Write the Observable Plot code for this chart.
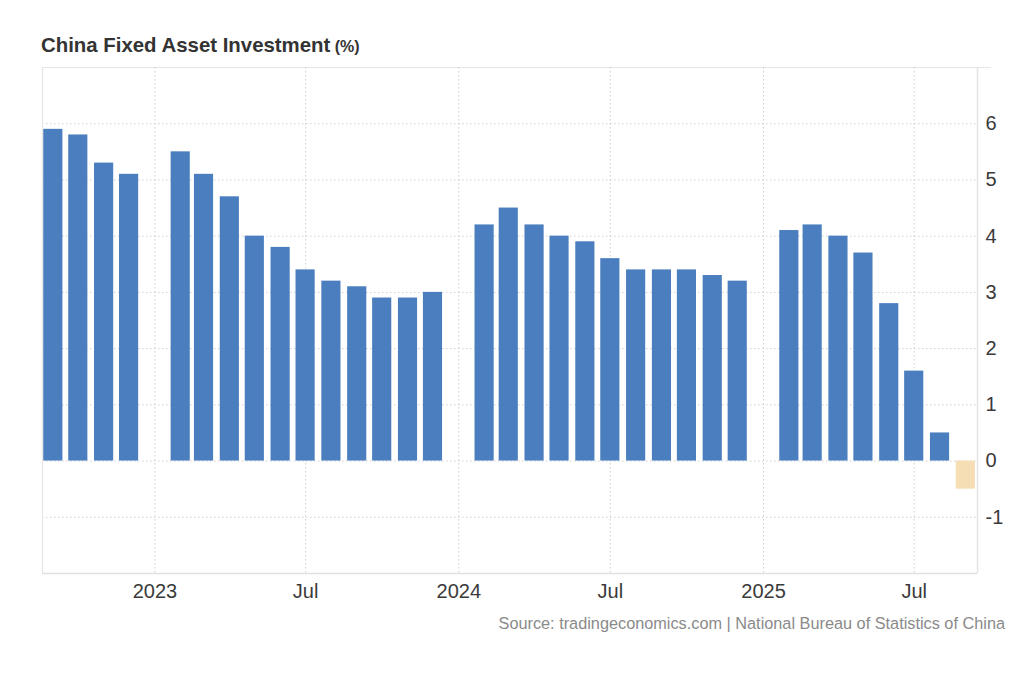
<!DOCTYPE html>
<html>
<head>
<meta charset="utf-8">
<script src="https://cdn.jsdelivr.net/npm/d3@7"></script>
<script src="https://cdn.jsdelivr.net/npm/@observablehq/plot@0.6"></script>
<style>
  html, body { margin: 0; padding: 0; background: #fff; }
  body { width: 1024px; height: 700px; position: relative; overflow: hidden; font-family: "Liberation Sans", Arial, sans-serif; }
  #title { position: absolute; left: 41px; top: 34px; font-size: 20.4px; font-weight: bold; color: #333; white-space: nowrap; }
  #title span { font-size: 16px; }
  #source { position: absolute; right: 19px; top: 614px; font-size: 16.3px; color: #8a8a8a; white-space: nowrap; }
  #chart { position: absolute; left: 0; top: 0; }
</style>
</head>
<body>
<div id="chart"></div>
<div id="title">China Fixed Asset Investment<span> (%)</span></div>
<div id="source">Source: tradingeconomics.com | National Bureau of Statistics of China</div>
<script>
const months = [
  "2022-09","2022-10","2022-11","2022-12",
  "2023-02","2023-03","2023-04","2023-05","2023-06","2023-07","2023-08","2023-09","2023-10","2023-11","2023-12",
  "2024-02","2024-03","2024-04","2024-05","2024-06","2024-07","2024-08","2024-09","2024-10","2024-11","2024-12",
  "2025-02","2025-03","2025-04","2025-05","2025-06","2025-07","2025-08","2025-09"
];
const values = [
  5.9, 5.8, 5.3, 5.1,
  5.5, 5.1, 4.7, 4.0, 3.8, 3.4, 3.2, 3.1, 2.9, 2.9, 3.0,
  4.2, 4.5, 4.2, 4.0, 3.9, 3.6, 3.4, 3.4, 3.4, 3.3, 3.2,
  4.1, 4.2, 4.0, 3.7, 2.8, 1.6, 0.5, -0.5
];
const latestMonth = "2025-09";
const xTicks = ["2023-01","2023-07","2024-01","2024-07","2025-01","2025-07"];
const yTicks = [-1, 0, 1, 2, 3, 4, 5, 6];
const yGrid = [-1, 0, 1, 2, 3, 4, 5, 6, 7];
const xDomain = ["2022-08-19", "2025-09-15"];
const yDomain = [-2, 7];

const parse = d3.utcParse("%Y-%m");
const parseDay = d3.utcParse("%Y-%m-%d");
const data = months.map((m, i) => ({ date: parse(m), value: values[i], latest: m === latestMonth }));
const tickDates = xTicks.map(parse);
const dom = xDomain.map(parseDay);

const fmt = d => d.getUTCMonth() === 0 ? d3.utcFormat("%Y")(d) : d3.utcFormat("%b")(d);

const chart = Plot.plot({
  width: 1024,
  height: 700,
  marginTop: 67,
  marginBottom: 127,
  marginLeft: 42,
  marginRight: 47,
  style: { fontFamily: "'Liberation Sans', Arial, sans-serif", background: "transparent" },
  x: { type: "utc", domain: dom },
  y: { domain: yDomain },
  marks: [
    Plot.ruleY(yGrid, { stroke: "#cfcfcf", strokeDasharray: "1.5,2.5", strokeWidth: 1 }),
    Plot.ruleY([yDomain[1]], { stroke: "#e6e6e6", strokeWidth: 1, insetRight: -14 }),
    Plot.ruleX(tickDates, { stroke: "#cfcfcf", strokeDasharray: "1.5,2.5", strokeWidth: 1 }),
    Plot.ruleX([dom[0]], { stroke: "#e6e6e6", strokeWidth: 1.2 }),
    Plot.ruleX([dom[1]], { stroke: "#e3e3e3", strokeWidth: 1.5 }),
    Plot.ruleY([yDomain[0]], { stroke: "#e0e0e0", strokeWidth: 1.5 }),
    Plot.rectY(data, {
      x1: d => d3.utcHour.offset(d.date, -276),
      x2: d => d3.utcHour.offset(d.date, 276),
      y1: 0,
      y2: "value",
      fill: d => d.latest ? "#f5deb3" : "#4a7ebf"
    }),
    Plot.axisX({ ticks: tickDates, tickFormat: fmt, tickSize: 0, tickPadding: 10, fontSize: 20, color: "#3a3a3a", label: null }),
    Plot.axisY({ anchor: "right", ticks: yTicks, tickFormat: d => String(d), tickSize: 0, tickPadding: 8, fontSize: 20, color: "#3a3a3a", label: null })
  ]
});
document.getElementById("chart").appendChild(chart);
</script>
</body>
</html>
